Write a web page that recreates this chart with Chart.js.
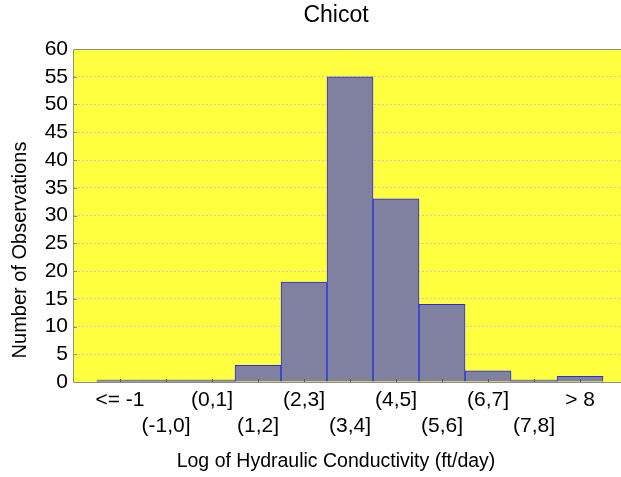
<!DOCTYPE html>
<html>
<head>
<meta charset="utf-8">
<script src="https://cdn.jsdelivr.net/npm/chart.js@4/dist/chart.umd.min.js"></script>
<style>
  html, body { margin: 0; padding: 0; background: #ffffff; }
  #wrap { width: 621px; height: 477px; position: relative; }
</style>
</head>
<body>
<div id="wrap"><canvas id="c" width="621" height="477"></canvas></div>
<script>
const chartTitle = "Chicot";
const xAxisTitle = "Log of Hydraulic Conductivity (ft/day)";
const yAxisTitle = "Number of Observations";
const categories = ["<= -1", "(-1,0]", "(0,1]", "(1,2]", "(2,3]", "(3,4]", "(4,5]", "(5,6]", "(6,7]", "(7,8]", "> 8"];
const counts = [0, 0, 0, 3, 18, 55, 33, 14, 2, 0, 1];
const yTicks = [0, 5, 10, 15, 20, 25, 30, 35, 40, 45, 50, 55, 60];

const FONT = "'Liberation Sans', Arial, sans-serif";

const decor = {
  id: 'decor',
  beforeDraw(chart) {
    const {ctx, chartArea: a} = chart;
    ctx.save();
    ctx.fillStyle = '#ffff40';
    ctx.fillRect(a.left, a.top, a.right - a.left, a.bottom - a.top);
    ctx.restore();
  },
  beforeDatasetsDraw(chart) {
    const {ctx, chartArea: a} = chart;
    ctx.save();
    ctx.strokeStyle = '#8c8c8c';
    ctx.lineWidth = 1;
    ctx.beginPath();
    ctx.moveTo(a.right, a.top + 0.5);
    ctx.lineTo(a.left - 0.5, a.top + 0.5);
    ctx.lineTo(a.left - 0.5, a.bottom + 0.5);
    ctx.lineTo(a.right, a.bottom + 0.5);
    ctx.stroke();
    // small inward tick marks on the y axis
    const ys = chart.scales.y;
    ctx.beginPath();
    yTicks.forEach(v => {
      const py = Math.round(ys.getPixelForValue(v)) + 0.5;
      ctx.moveTo(a.left, py);
      ctx.lineTo(a.left + 3, py);
    });
    ctx.stroke();
    ctx.restore();
  },
  afterDatasetsDraw(chart) {
    const {ctx, chartArea: a} = chart;
    const xs = chart.scales.x;
    ctx.save();
    ctx.strokeStyle = '#555566';
    ctx.lineWidth = 1;
    ctx.beginPath();
    categories.forEach((c, i) => {
      const px = Math.round(xs.getPixelForValue(i)) + 0.5;
      ctx.moveTo(px, a.bottom);
      ctx.lineTo(px, a.bottom - 3);
    });
    ctx.stroke();
    ctx.restore();
  },
  afterDraw(chart) {
    const {ctx} = chart;
    ctx.save();
    ctx.fillStyle = '#000000';
    ctx.textAlign = 'center';
    ctx.textBaseline = 'alphabetic';
    ctx.font = "23px " + FONT;
    ctx.fillText(chartTitle, 336, 22);
    ctx.font = "19.5px " + FONT;
    ctx.fillText(xAxisTitle, 336, 467);
    ctx.translate(26, 250);
    ctx.rotate(-Math.PI / 2);
    ctx.font = "20px " + FONT;
    ctx.fillText(yAxisTitle, 0, 0);
    ctx.restore();
  }
};

new Chart(document.getElementById('c'), {
  type: 'bar',
  data: {
    datasets: [{
      data: counts.map((v, i) => ({x: i, y: v})),
      backgroundColor: '#8080a0',
      borderColor: ctx => (ctx.raw && ctx.raw.y === 0) ? '#7a7a9c' : '#2b2be0',
      borderWidth: ctx => (ctx.raw && ctx.raw.y === 0) ? 0 : 1,
      borderSkipped: 'start',
      minBarLength: 2,
      barPercentage: 1,
      categoryPercentage: 1
    }]
  },
  options: {
    responsive: false,
    animation: false,
    devicePixelRatio: 1,
    layout: { padding: { top: 49, right: 0, left: 0, bottom: 0 } },
    plugins: { legend: { display: false }, title: { display: false }, tooltip: { enabled: false } },
    scales: {
      x: {
        type: 'linear',
        offset: false,
        min: -1,
        max: 10.89,
        afterFit(s) { s.height = 95; },
        afterBuildTicks(s) { s.ticks = categories.map((c, i) => ({value: i})); },
        grid: { display: false, drawTicks: false },
        border: { display: false },
        ticks: {
          autoSkip: false,
          maxRotation: 0,
          minRotation: 0,
          padding: 6,
          color: '#000000',
          font: { family: FONT, size: 21, lineHeight: 1.2 },
          callback(value) {
            if (!Number.isInteger(value) || value < 0 || value >= categories.length) return '';
            return value % 2 === 0 ? [categories[value]] : ['', categories[value]];
          }
        }
      },
      y: {
        min: 0,
        max: 60,
        afterFit(s) { s.width = 74; },
        afterBuildTicks(s) { s.ticks = yTicks.map(v => ({value: v})); },
        grid: {
          drawTicks: false,
          color: ctx => (ctx.tick && (ctx.tick.value === 0 || ctx.tick.value === 60)) ? 'rgba(0,0,0,0)' : '#c8c8c8',
          lineWidth: 1
        },
        border: { display: false, dash: [2, 2] },
        ticks: {
          autoSkip: false,
          padding: 6,
          color: '#000000',
          font: { family: FONT, size: 21 }
        }
      }
    }
  },
  plugins: [decor]
});
</script>
</body>
</html>
